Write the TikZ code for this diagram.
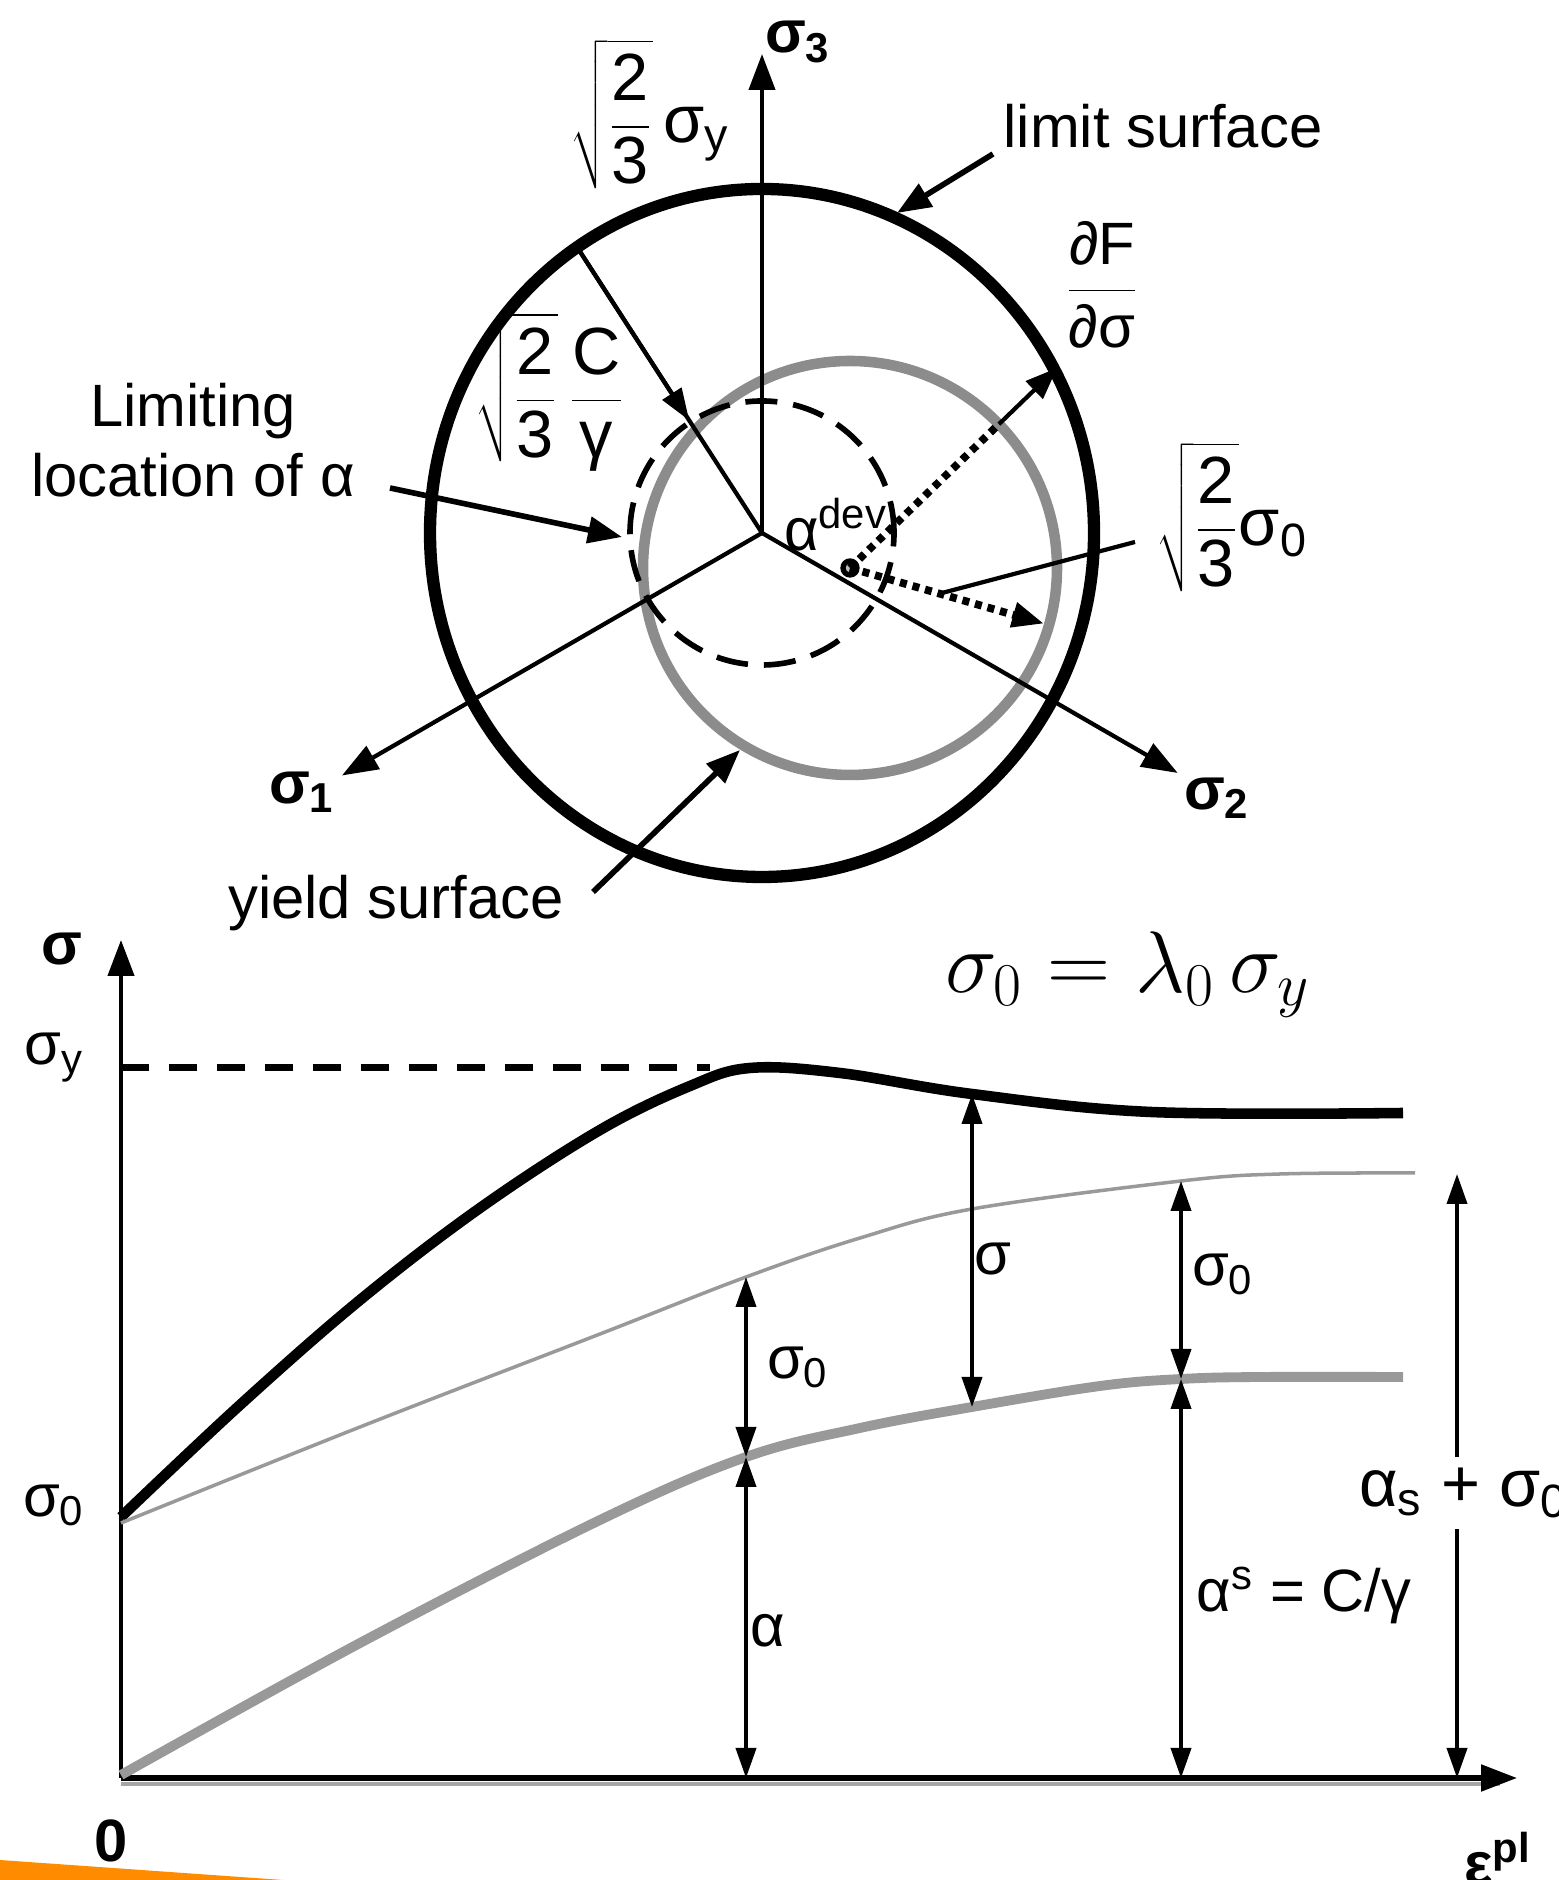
\documentclass[tikz,border=0pt]{standalone}
\usepackage{fontspec}
\setmainfont{Liberation Sans}
\usetikzlibrary{arrows.meta}
\definecolor{slide}{RGB}{255,140,0}
\newcommand{\lbl}{\fontsize{17}{20}\selectfont}
\newcommand{\rad}{\fontsize{19}{22}\selectfont}
\newcommand{\twothirds}{\sqrt{\frac{\mbox{2}}{\mbox{3}}}}

\begin{document}
\begin{tikzpicture}[every node/.style={font=\lbl,inner sep=1pt},
  axis/.style={line width=1.2pt,-{Triangle[length=0.36cm,width=0.26cm]}},
  lead/.style={line width=1.6pt,-{Triangle[length=0.34cm,width=0.26cm]}},
  dimarr/.style={line width=1.1pt,{Triangle[length=0.3cm,width=0.2cm]}-{Triangle[length=0.3cm,width=0.2cm]}},
  dotline/.style={line width=2.2pt,dash pattern=on 0.07cm off 0.06cm},
  limitc/.style={line width=3.5pt},
  yieldc/.style={line width=3pt,draw=black!45}]
  \useasboundingbox (0,0) rectangle (15.58,18.80);
  \clip (0,0) rectangle (15.58,18.80);

  % deviatoric plane
  \coordinate (O) at (7.62,13.47);
  \coordinate (al) at (8.50,13.12);
  \draw[limitc] (O) ellipse (3.32 and 3.44);
  \draw[yieldc] (al) circle (2.07);
  \draw[line width=1.6pt,dash pattern=on 0.32cm off 0.16cm] (O) circle (1.32);
  \draw[axis] (O) -- (7.62,18.26) coordinate (s3);
  \draw[axis] (O) -- ([shift={(210:4.85)}]O) coordinate (s1);
  \draw[axis] (O) -- ([shift={(-30:4.8)}]O) coordinate (s2);
  \node[font=\lbl\bfseries] (s3l) at (7.98,18.38) {σ\textsubscript{3}};
  \node[font=\lbl\bfseries] (s1l) at (3.02,10.88) {σ\textsubscript{1}};
  \node[font=\lbl\bfseries] (s2l) at (12.17,10.82) {σ\textsubscript{2}};

  \coordinate (P) at (5.77,16.33);
  \draw[line width=1.2pt] (P) -- (O);
  \draw[line width=1.2pt,-{Triangle[length=0.32cm,width=0.22cm]}] (P) -- ([shift={(122.9:1.34)}]O);
  \draw[line width=1.5pt,fill=black!25] (al) circle (0.07);
  \draw[dotline] (al) -- ([shift={(44:2.07)}]al) coordinate (nf);
  \draw[line width=1.2pt,-{Triangle[length=0.32cm,width=0.24cm]}] (nf) -- ([shift={(44:2.88)}]al) coordinate (nt);
  \draw[dotline,-{Triangle[length=0.32cm,width=0.24cm]}] (al) -- ([shift={(-16:2.02)}]al) coordinate (rt);

  \node (sy) at (6.50,17.66) {\rad$\displaystyle\twothirds\,\mbox{σ\textsubscript{y}}$};
  \node (cg) at (5.50,14.88) {\rad$\displaystyle\twothirds\,\frac{\mbox{C}}{\mbox{γ}}$};
  \node[anchor=west] (s0) at (11.52,13.63) {\rad$\displaystyle\twothirds\mbox{σ\textsubscript{0}}$};
  \node (df) at (11.02,15.95) {$\displaystyle\frac{\mbox{∂F}}{\mbox{∂σ}}$};
  \node (ad) at (8.36,13.55) {α\textsuperscript{dev}};
  \node (ls) at (11.63,17.54) {limit surface};
  \node[align=center] (lim) at (1.93,14.40) {Limiting\\location of α};
  \node (ys) at (3.96,9.77) {yield surface};

  \coordinate (lsa) at (9.93,17.26);
  \coordinate (lsb) at (8.97,16.67);
  \coordinate (lia) at (3.90,13.92);
  \coordinate (lib) at (6.22,13.43);
  \coordinate (ysa) at (5.93,9.88);
  \coordinate (ysb) at (7.40,11.30);
  \coordinate (s0a) at (11.35,13.38);
  \coordinate (s0b) at (9.42,12.87);
  \foreach \a/\b in {lsa/lsb,lia/lib,ysa/ysb} \draw[lead] (\a) -- (\b);
  \draw[line width=1.2pt] (s0a) -- (s0b);

  % hardening curves
  \coordinate (o) at (1.21,1.02);
  \draw[black!35,line width=1pt] (1.21,0.96) -- (15.0,0.96);
  \draw[axis] (o) -- (1.21,9.40);
  \draw[axis,line width=1.5pt] (o) -- (15.17,1.02);
  \draw[line width=2pt,dash pattern=on 0.28cm off 0.2cm] (1.21,8.12) -- (7.1,8.12);
  \draw[line width=3pt] plot[smooth,tension=0.6] coordinates {(1.21,3.63) (2.40,4.75) (3.60,5.80) (4.80,6.72) (6.00,7.50) (6.90,7.94) (7.50,8.12) (8.40,8.07) (9.72,7.86) (11.51,7.68) (14.03,7.67)};
  \draw[line width=1pt,black!40] plot[smooth,tension=0.6] coordinates {(1.21,3.57) (3.60,4.53) (6.00,5.46) (7.46,6.03) (8.60,6.42) (9.72,6.71) (11.81,6.99) (12.8,7.06) (14.15,7.07)};
  \draw[line width=2.8pt,black!40] plot[smooth,tension=0.6] coordinates {(1.21,1.05) (3.60,2.37) (6.00,3.60) (7.46,4.23) (8.60,4.52) (9.72,4.73) (11.00,4.94) (11.81,5.01) (12.6,5.03) (14.03,5.03)};

  \coordinate (t1) at (7.46,6.03);
  \coordinate (g1) at (7.46,4.23);
  \coordinate (x1) at (7.46,1.02);
  \coordinate (b2) at (9.72,7.86);
  \coordinate (g2) at (9.72,4.73);
  \coordinate (t3) at (11.81,6.99);
  \coordinate (g3) at (11.81,5.01);
  \coordinate (x3) at (11.81,1.02);
  \coordinate (t4) at (14.57,7.06);
  \coordinate (x4) at (14.57,1.02);
  \foreach \p/\q in {t1/g1,g1/x1,b2/g2,t3/g3,g3/x3,t4/x4} \draw[dimarr] (\p) -- (\q);

  \node[font=\lbl\bfseries] (sl) at (0.62,9.31) {σ};
  \node (syl) at (0.54,8.22) {σ\textsubscript{y}};
  \node (s0l) at (0.54,3.75) {σ\textsubscript{0}};
  \node[font=\lbl\bfseries] (zl) at (1.11,0.39) {0};
  \node[font=\lbl\bfseries,anchor=base west] (ep) at (14.60,-0.05) {ε\textsuperscript{pl}};
  \node (d1) at (7.98,5.13) {σ\textsubscript{0}};
  \node (d2) at (7.68,2.49) {α};
  \node (d3) at (9.93,6.21) {σ};
  \node (d4) at (12.23,6.06) {σ\textsubscript{0}};
  \node (d5) at (13.04,2.85) {α\textsuperscript{s} = C/γ};
  \node[font=\fontsize{19}{23}\selectfont,fill=white,anchor=west,inner sep=3pt] (d6) at (13.48,3.87) {α\textsubscript{s} + σ\textsubscript{0}};
  \node[font=\fontsize{25}{30}\selectfont] (law) at (11.28,9.05) {$\sigma_0 = \lambda_0\,\sigma_y$};

  \fill[slide] (0,0) -- (0,0.20) -- (2.83,0) -- cycle;
\end{tikzpicture}
\end{document}
